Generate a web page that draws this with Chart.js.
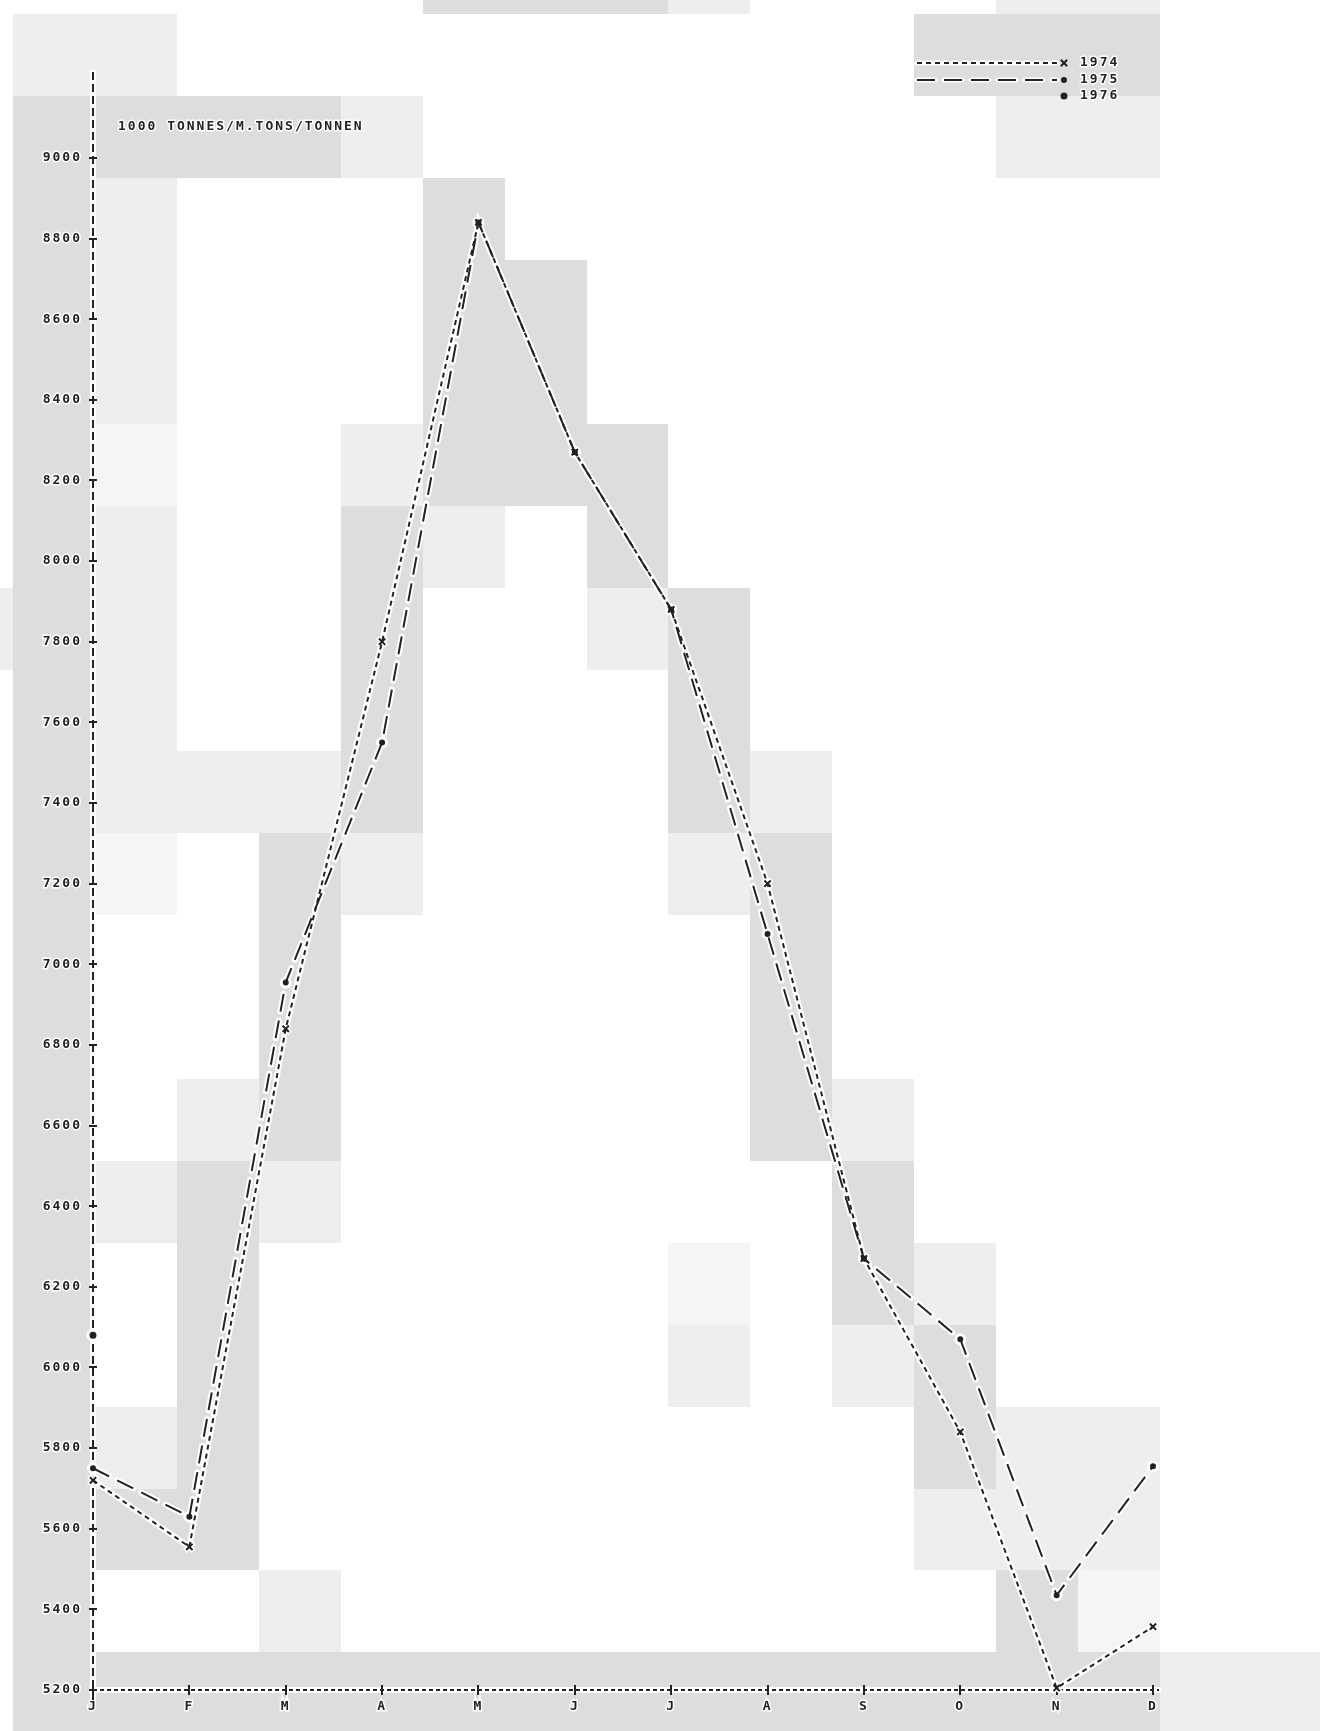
<!DOCTYPE html>
<html>
<head>
<meta charset="utf-8">
<title>1000 TONNES/M.TONS/TONNEN</title>
<script src="https://cdn.jsdelivr.net/npm/chart.js@4.4.1/dist/chart.umd.min.js"></script>
<style>
  html, body { margin: 0; padding: 0; background: #ffffff; }
  canvas { display: block; }
</style>
</head>
<body>
<canvas id="chart" width="1320" height="1731"></canvas>
<script>
// ---- data ----
const months = ['J', 'F', 'M', 'A', 'M', 'J', 'J', 'A', 'S', 'O', 'N', 'D'];
const yTicks = [5200, 5400, 5600, 5800, 6000, 6200, 6400, 6600, 6800, 7000,
                7200, 7400, 7600, 7800, 8000, 8200, 8400, 8600, 8800, 9000];
const values1974 = [5720, 5555, 6840, 7800, 8840, 8270, 7880, 7200, 6270, 5840, 5205, 5357];
const values1975 = [5750, 5630, 6955, 7550, 8840, 8270, 7880, 7075, 6270, 6070, 5435, 5755];
const values1976 = [6080];
const seriesNames = ['1974', '1975', '1976'];
const unitLabel = '1000 TONNES/M.TONS/TONNEN';

// ---- styling ----
const INK = '#222222';
const FONT_FAMILY = '"DejaVu Sans Mono", "Liberation Mono", monospace';
const FONT_CSS = 'bold 13px ' + FONT_FAMILY;
const tickFont = { family: FONT_FAMILY, size: 13, weight: 'bold' };
const dashAxisY = [8, 4], dashAxisX = [4, 3];

// paper tone tiles laid behind the plot (l = light, m = mid, v = faint)
const TONES = { l: '#eeeeee', m: '#dddddd', v: '#f5f5f5' };
const TILE = 81.9, TILE_X0 = -68.7, TILE_Y0 = -67.6;
const toneRows = [
  '......mmml...ll..',
  '.ll.........mmm..',
  '.mmmml.......ll..',
  '.ml...m..........',
  '.ml...mm.........',
  '.ml...mm.........',
  '.mv..lmmm........',
  '.ml..ml.m........',
  'lml..m..lm.......',
  '.ml..m...m.......',
  '.mlllm...ml......',
  '.mv.ml...lm......',
  '.m..m.....m......',
  '.m..m.....m......',
  '.m.lm.....ml.....',
  '.mlml......m.....',
  '.m.m.....v.ml....',
  '.m.m.....l.lm....',
  '.mlm........mll..',
  '.mmm........lll..',
  '.m..l........mv..',
  '.mmmmmmmmmmmmmmll'
];

function haloText(ctx, text, x, y) {
  ctx.lineJoin = 'round';
  ctx.strokeStyle = '#ffffff';
  ctx.lineWidth = 3;
  ctx.strokeText(text, x, y);
  ctx.fillStyle = INK;
  ctx.fillText(text, x, y);
}

const backdrop = {
  id: 'backdrop',
  beforeDraw(chart) {
    const ctx = chart.ctx;
    ctx.save();
    ctx.fillStyle = '#ffffff';
    ctx.fillRect(0, 0, chart.width, chart.height);
    toneRows.forEach((row, r) => {
      for (let c = 0; c < row.length; c++) {
        const tone = TONES[row[c]];
        if (!tone) continue;
        const x0 = Math.round(TILE_X0 + c * TILE), x1 = Math.round(TILE_X0 + (c + 1) * TILE);
        const y0 = Math.round(TILE_Y0 + r * TILE), y1 = Math.round(TILE_Y0 + (r + 1) * TILE);
        ctx.fillStyle = tone;
        ctx.fillRect(x0, y0, x1 - x0, y1 - y0);
      }
    });
    // white edge under both axis lines
    const { left, top, right, bottom } = chart.chartArea;
    ctx.strokeStyle = '#ffffff';
    ctx.lineWidth = 6;
    ctx.beginPath();
    ctx.moveTo(left, top - 2);
    ctx.lineTo(left, bottom + 10);
    ctx.moveTo(left - 4, bottom);
    ctx.lineTo(right + 8, bottom);
    ctx.stroke();
    ctx.restore();
    ctx.letterSpacing = '2px';
  }
};

// dashed axis lines with "+" ticks on the y axis and bars on the x axis
const axisMarks = {
  id: 'axisMarks',
  beforeDatasetsDraw(chart) {
    const ctx = chart.ctx, xs = chart.scales.x, ys = chart.scales.y;
    const ax = Math.round(ys.right), ay = Math.round(xs.top);
    ctx.save();
    ctx.strokeStyle = INK;
    ctx.lineWidth = 2;
    ctx.setLineDash(dashAxisY);
    ctx.beginPath();
    ctx.moveTo(ax, Math.round(ys.top));
    ctx.lineTo(ax, ay + 10);
    ctx.stroke();
    ctx.setLineDash(dashAxisX);
    ctx.beginPath();
    ctx.moveTo(ax, ay);
    ctx.lineTo(Math.round(xs.right) + 6, ay);
    ctx.stroke();
    ctx.setLineDash([]);
    ctx.beginPath();
    ys.ticks.forEach(t => {
      const y = Math.round(ys.getPixelForValue(t.value));
      ctx.moveTo(ax - 4, y);
      ctx.lineTo(ax + 4, y);
    });
    xs.ticks.forEach((t, i) => {
      const x = Math.round(xs.getPixelForTick(i));
      ctx.moveTo(x, ay - 5);
      ctx.lineTo(x, ay + 5);
    });
    ctx.stroke();
    ctx.restore();
  }
};

const captions = {
  id: 'captions',
  afterDraw(chart) {
    const ctx = chart.ctx;
    const { left, top, right } = chart.chartArea;
    ctx.save();
    ctx.font = FONT_CSS;
    ctx.letterSpacing = '2px';
    ctx.textBaseline = 'middle';
    ctx.textAlign = 'left';
    haloText(ctx, unitLabel, left + 25, top + 55);

    const rowY = [top - 9, top + 8, top + 24];
    seriesNames.forEach((name, i) => {
      const ds = chart.data.datasets[i];
      const y = rowY[i];
      if (ds.showLine !== false) {
        ctx.setLineDash(ds.borderDash || []);
        ctx.lineCap = 'round';
        ctx.strokeStyle = '#ffffff';
        ctx.lineWidth = 5;
        ctx.beginPath(); ctx.moveTo(right - 236, y); ctx.lineTo(right - 96, y); ctx.stroke();
        ctx.lineCap = 'butt';
        ctx.strokeStyle = INK;
        ctx.lineWidth = 2;
        ctx.beginPath(); ctx.moveTo(right - 236, y); ctx.lineTo(right - 96, y); ctx.stroke();
        ctx.setLineDash([]);
      }
      ctx.fillStyle = INK;
      ctx.strokeStyle = INK;
      ctx.lineWidth = 2;
      Chart.helpers.drawPoint(ctx, {
        pointStyle: ds.pointStyle, rotation: 0, radius: ds.pointRadius, borderWidth: 2
      }, right - 89, y);
      haloText(ctx, name, right - 73, y);
    });
    ctx.restore();
  }
};

function series(label, data, dash, style, radius) {
  return {
    label, data,
    borderColor: INK, backgroundColor: INK,
    borderWidth: 2, borderDash: dash,
    pointStyle: style, pointRadius: radius, pointHoverRadius: radius,
    pointBorderWidth: 2, pointBorderColor: INK, pointBackgroundColor: INK,
    tension: 0, fill: false, clip: false, order: 1,
    showLine: dash !== null
  };
}
function halo(data, dash, style, radius) {
  return {
    label: '', data,
    borderColor: '#ffffff', backgroundColor: '#ffffff',
    borderWidth: 6, borderDash: dash || [], borderCapStyle: 'round',
    pointStyle: style, pointRadius: radius + 1.5, pointHoverRadius: radius + 1.5,
    pointBorderWidth: 5, pointBorderColor: '#ffffff', pointBackgroundColor: '#ffffff',
    tension: 0, fill: false, clip: false, order: 2,
    showLine: dash !== null
  };
}

const dash1974 = [5, 4], dash1975 = [18, 9];

new Chart(document.getElementById('chart'), {
  type: 'line',
  data: {
    labels: months,
    datasets: [
      series(seriesNames[0], values1974, dash1974, 'crossRot', 4.5),
      series(seriesNames[1], values1975, dash1975, 'circle', 2),
      series(seriesNames[2], values1976, null, 'circle', 2.5),
      halo(values1974, dash1974, 'crossRot', 4.5),
      halo(values1975, dash1975, 'circle', 2),
      halo(values1976, null, 'circle', 2.5)
    ]
  },
  options: {
    responsive: false,
    devicePixelRatio: 1,
    animation: false,
    events: [],
    layout: { padding: { left: 0, right: 167, top: 72, bottom: 0 } },
    plugins: {
      legend: { display: false },
      title: { display: false },
      tooltip: { enabled: false }
    },
    scales: {
      x: {
        type: 'category',
        offset: false,
        grid: { display: false, drawTicks: false },
        border: { display: false },
        ticks: {
          padding: 9, autoSkip: false, maxRotation: 0, minRotation: 0,
          color: INK, font: tickFont,
          textStrokeColor: '#ffffff', textStrokeWidth: 3
        },
        afterFit(scale) { scale.height = 41; }
      },
      y: {
        type: 'linear',
        min: 5200,
        max: 9213,
        grid: { display: false, drawTicks: false },
        border: { display: false },
        afterBuildTicks(scale) { scale.ticks = yTicks.map(v => ({ value: v })); },
        ticks: {
          padding: 11, color: INK, font: tickFont,
          textStrokeColor: '#ffffff', textStrokeWidth: 3,
          callback: v => String(v)
        },
        afterFit(scale) { scale.width = 93; }
      }
    }
  },
  plugins: [backdrop, axisMarks, captions]
});
</script>
</body>
</html>
